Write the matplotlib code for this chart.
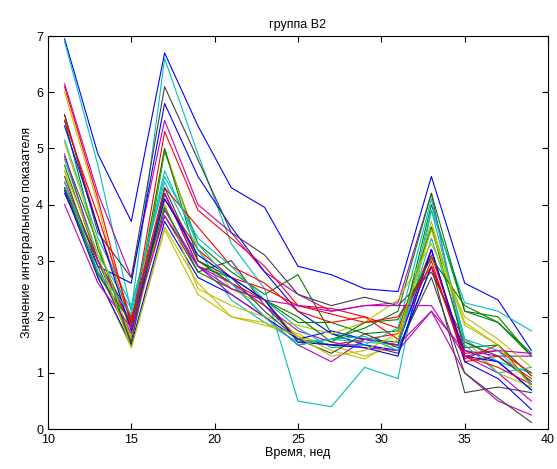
import numpy as np
import matplotlib.pyplot as plt

plt.rcParams['font.family'] = ['Liberation Sans', 'DejaVu Sans']

weeks = [11, 13, 15, 17, 19, 21, 23, 25, 27, 29, 31, 33, 35, 37, 39]

# one row per patient, group B2
series = [
    [6.95, 4.9, 3.7, 6.7, 5.4, 4.3, 3.95, 2.9, 2.75, 2.5, 2.45, 4.5, 2.6, 2.3, 1.4],
    [4.85, 3.3, 1.5, 4.95, 3.3, 2.8, 2.4, 2.75, 1.7, 1.6, 1.55, 4.0, 2.1, 2.0, 1.3],
    [5.6, 3.6, 1.9, 4.2, 3.0, 2.6, 2.3, 1.6, 1.5, 1.6, 1.7, 3.2, 1.25, 1.5, 0.8],
    [6.9, 4.7, 2.1, 6.6, 4.9, 3.3, 2.5, 0.5, 0.4, 1.1, 0.9, 3.9, 2.25, 2.1, 1.75],
    [6.15, 4.2, 2.7, 5.5, 4.0, 3.5, 2.8, 2.4, 2.1, 2.2, 2.25, 4.2, 1.3, 1.0, 0.5],
    [6.0, 4.0, 1.6, 5.0, 3.2, 2.5, 2.2, 1.65, 1.5, 1.3, 1.5, 3.6, 1.9, 1.5, 0.95],
    [4.3, 3.0, 2.0, 3.8, 2.8, 3.0, 2.2, 1.6, 1.5, 1.5, 1.35, 2.9, 0.65, 0.75, 0.65],
    [4.2, 2.9, 2.6, 5.8, 4.5, 3.6, 2.8, 2.1, 1.7, 1.5, 1.4, 2.9, 1.4, 1.2, 0.7],
    [5.5, 3.2, 1.8, 5.0, 3.0, 2.6, 2.0, 1.5, 1.6, 1.8, 2.1, 4.2, 2.1, 1.9, 1.3],
    [4.4, 3.0, 1.85, 4.1, 3.2, 2.7, 2.5, 2.2, 2.15, 2.0, 1.6, 3.0, 1.2, 1.3, 0.9],
    [5.15, 3.4, 2.2, 4.4, 3.2, 2.3, 1.9, 1.55, 1.6, 1.55, 1.5, 3.4, 1.6, 1.2, 1.0],
    [4.3, 2.8, 1.7, 3.9, 2.9, 2.6, 2.2, 1.75, 1.55, 1.45, 1.4, 2.1, 1.4, 1.3, 1.3],
    [4.6, 2.7, 1.45, 3.6, 2.6, 2.0, 1.85, 1.7, 1.4, 1.25, 1.6, 3.7, 1.6, 1.0, 0.75],
    [5.6, 3.5, 2.7, 6.1, 4.8, 3.5, 3.1, 2.4, 2.2, 2.35, 2.2, 2.8, 1.55, 1.3, 0.85],
    [4.25, 2.7, 1.5, 3.7, 2.7, 2.4, 2.0, 1.6, 1.75, 1.6, 1.5, 3.2, 1.2, 0.9, 0.35],
    [4.7, 3.0, 1.6, 4.2, 2.9, 2.7, 2.3, 1.9, 1.9, 1.7, 1.75, 3.6, 1.45, 1.5, 0.95],
    [5.5, 3.8, 1.95, 4.3, 3.6, 2.9, 2.6, 2.1, 1.9, 2.0, 1.8, 3.1, 1.35, 1.4, 1.0],
    [4.8, 3.1, 2.15, 4.5, 3.4, 2.9, 2.3, 1.8, 1.45, 1.5, 1.8, 4.1, 1.5, 1.0, 1.1],
    [4.9, 3.0, 1.9, 4.2, 2.9, 2.4, 2.0, 1.5, 1.2, 1.6, 1.5, 2.1, 1.0, 0.5, 0.25],
    [5.1, 3.3, 1.6, 4.0, 2.5, 2.2, 2.0, 1.85, 1.7, 1.9, 2.3, 3.3, 2.0, 1.6, 1.1],
    [4.5, 2.9, 1.55, 4.3, 3.0, 2.7, 2.1, 1.6, 1.35, 1.7, 1.45, 2.7, 1.0, 0.55, 0.12],
    [5.4, 3.6, 1.75, 4.1, 3.1, 2.7, 2.3, 1.55, 1.5, 1.45, 1.3, 3.2, 1.3, 1.2, 0.7],
    [4.3, 2.75, 1.9, 3.95, 2.8, 2.5, 2.3, 2.0, 1.55, 1.9, 1.95, 3.05, 2.2, 1.9, 1.35],
    [6.1, 4.1, 1.85, 5.3, 3.9, 3.4, 2.9, 2.2, 2.05, 1.9, 2.0, 2.9, 1.3, 1.1, 0.8],
    [4.4, 2.8, 2.05, 4.6, 3.3, 2.6, 2.0, 1.5, 1.6, 1.65, 1.4, 3.9, 1.6, 1.4, 0.8],
    [4.0, 2.6, 1.8, 3.8, 2.9, 2.5, 2.3, 2.2, 2.1, 2.2, 2.2, 2.2, 1.3, 1.4, 1.35],
    [4.6, 3.1, 1.45, 3.55, 2.4, 2.0, 1.9, 1.65, 1.3, 1.4, 1.7, 3.55, 1.85, 1.5, 0.75],
]

# old matlab colour order
colors = [(0, 0, 1), (0, 0.5, 0), (1, 0, 0), (0, 0.75, 0.75),
          (0.75, 0, 0.75), (0.75, 0.75, 0), (0.25, 0.25, 0.25)]

fig = plt.figure(figsize=(5.57, 4.69), dpi=100)
ax = fig.add_axes([0.086, 0.085, 0.898, 0.838])

for i, s in enumerate(series):
    ax.plot(weeks, s, color=colors[i % len(colors)], lw=0.8)

ax.set_xlim(10, 40)
ax.set_ylim(0, 7)
ax.set_xticks(np.arange(10, 41, 5))
ax.set_yticks(np.arange(0, 8, 1))
ax.tick_params(direction='in', top=True, right=True, labelsize=9, length=4)
ax.set_title('группа B2', fontsize=9)
ax.set_xlabel('Время, нед', fontsize=9, labelpad=1)
ax.set_ylabel('Значение интегрального показателя', fontsize=9, labelpad=2)

fig.savefig('out.png', dpi=100)
